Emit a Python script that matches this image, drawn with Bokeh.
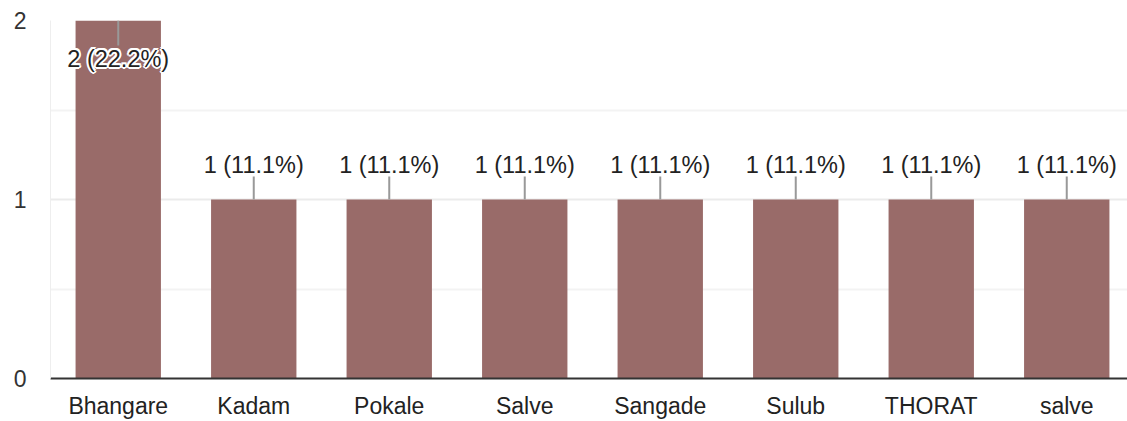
import math
from bokeh.plotting import figure
from bokeh.models import ColumnDataSource, FixedTicker, Range1d
from bokeh.core.properties import value
from bokeh.embed import file_html
from bokeh.resources import INLINE

categories = ["Bhangare", "Kadam", "Pokale", "Salve", "Sangade", "Sulub", "THORAT", "salve"]
counts = [2, 1, 1, 1, 1, 1, 1, 1]
percents = [22.2, 11.1, 11.1, 11.1, 11.1, 11.1, 11.1, 11.1]
y_ticks = [0, 1, 2]

FONT = "Liberation Sans"
BAR_COLOR = "#996b69"

xs = list(range(len(categories)))
labels = [f"{c} ({p}%)" for c, p in zip(counts, percents)]
ymax = max(y_ticks)
inside = [c >= ymax for c in counts]
label_off = [38 if i else -35 for i in inside]   # screen px, positive = down
ray_angle = [-math.pi / 2 if i else math.pi / 2 for i in inside]
ray_len = [25 if i else 23 for i in inside]

src = ColumnDataSource(dict(x=xs, top=counts, label=labels, yoff=label_off,
                            ang=ray_angle, rlen=ray_len))

p = figure(width=1127, height=421, output_backend="svg", toolbar_location=None,
           x_range=Range1d(-0.5, -0.5 + 1077 / 135.5), y_range=Range1d(0, 2.0),
           min_border_left=50, min_border_right=0, min_border_top=20, min_border_bottom=43)
p.outline_line_color = None
p.background_fill_color = "white"
p.border_fill_color = "white"

p.vbar(x="x", top="top", width=0.63, source=src, fill_color=BAR_COLOR, line_color=None)
p.ray(x="x", y="top", length="rlen", length_units="screen", angle="ang",
      source=src, line_color="#999999", line_width=2)

# white halo behind the labels
for dx, dy in [(-2, 0), (2, 0), (0, -2), (0, 2), (-1.5, -1.5), (1.5, -1.5), (-1.5, 1.5), (1.5, 1.5)]:
    halo_off = [o + dy for o in label_off]
    hsrc = ColumnDataSource(dict(x=xs, top=counts, label=labels, yoff=halo_off))
    p.text(x="x", y="top", text="label", source=hsrc, y_offset="yoff", x_offset=dx,
           text_align="center", text_baseline="middle", text_font=value(FONT),
           text_font_size="23.5px", text_color="white")

p.text(x="x", y="top", text="label", source=src, y_offset="yoff",
       text_align="center", text_baseline="middle", text_font=value(FONT),
       text_font_size="23.5px", text_color="#222222")

# axes
p.xaxis.ticker = FixedTicker(ticks=xs)
p.xaxis.major_label_overrides = {i: c for i, c in zip(xs, categories)}
p.xaxis.axis_line_color = "#333333"
p.xaxis.axis_line_width = 2
p.xaxis.major_tick_line_color = None
p.xaxis.minor_tick_line_color = None
p.xaxis.major_tick_out = 0
p.xaxis.minor_tick_out = 0
p.xaxis.major_label_text_font = FONT
p.xaxis.major_label_text_font_size = "23px"
p.xaxis.major_label_text_color = "#222222"
p.xaxis.major_label_standoff = 14

p.yaxis.ticker = FixedTicker(ticks=y_ticks, minor_ticks=[0.5, 1.5])
p.yaxis.axis_line_color = "#eeeeee"
p.yaxis.major_tick_line_color = None
p.yaxis.minor_tick_line_color = None
p.yaxis.major_tick_out = 0
p.yaxis.minor_tick_out = 0
p.yaxis.major_label_text_font = FONT
p.yaxis.major_label_text_font_size = "23px"
p.yaxis.major_label_text_color = "#333333"
p.yaxis.major_label_standoff = 24

p.xgrid.grid_line_color = None
p.ygrid.grid_line_color = "#ebebeb"
p.ygrid.grid_line_width = 2
p.ygrid.minor_grid_line_color = "#f3f3f3"
p.ygrid.minor_grid_line_width = 2

open("out.html", "w").write(file_html(p, INLINE))
